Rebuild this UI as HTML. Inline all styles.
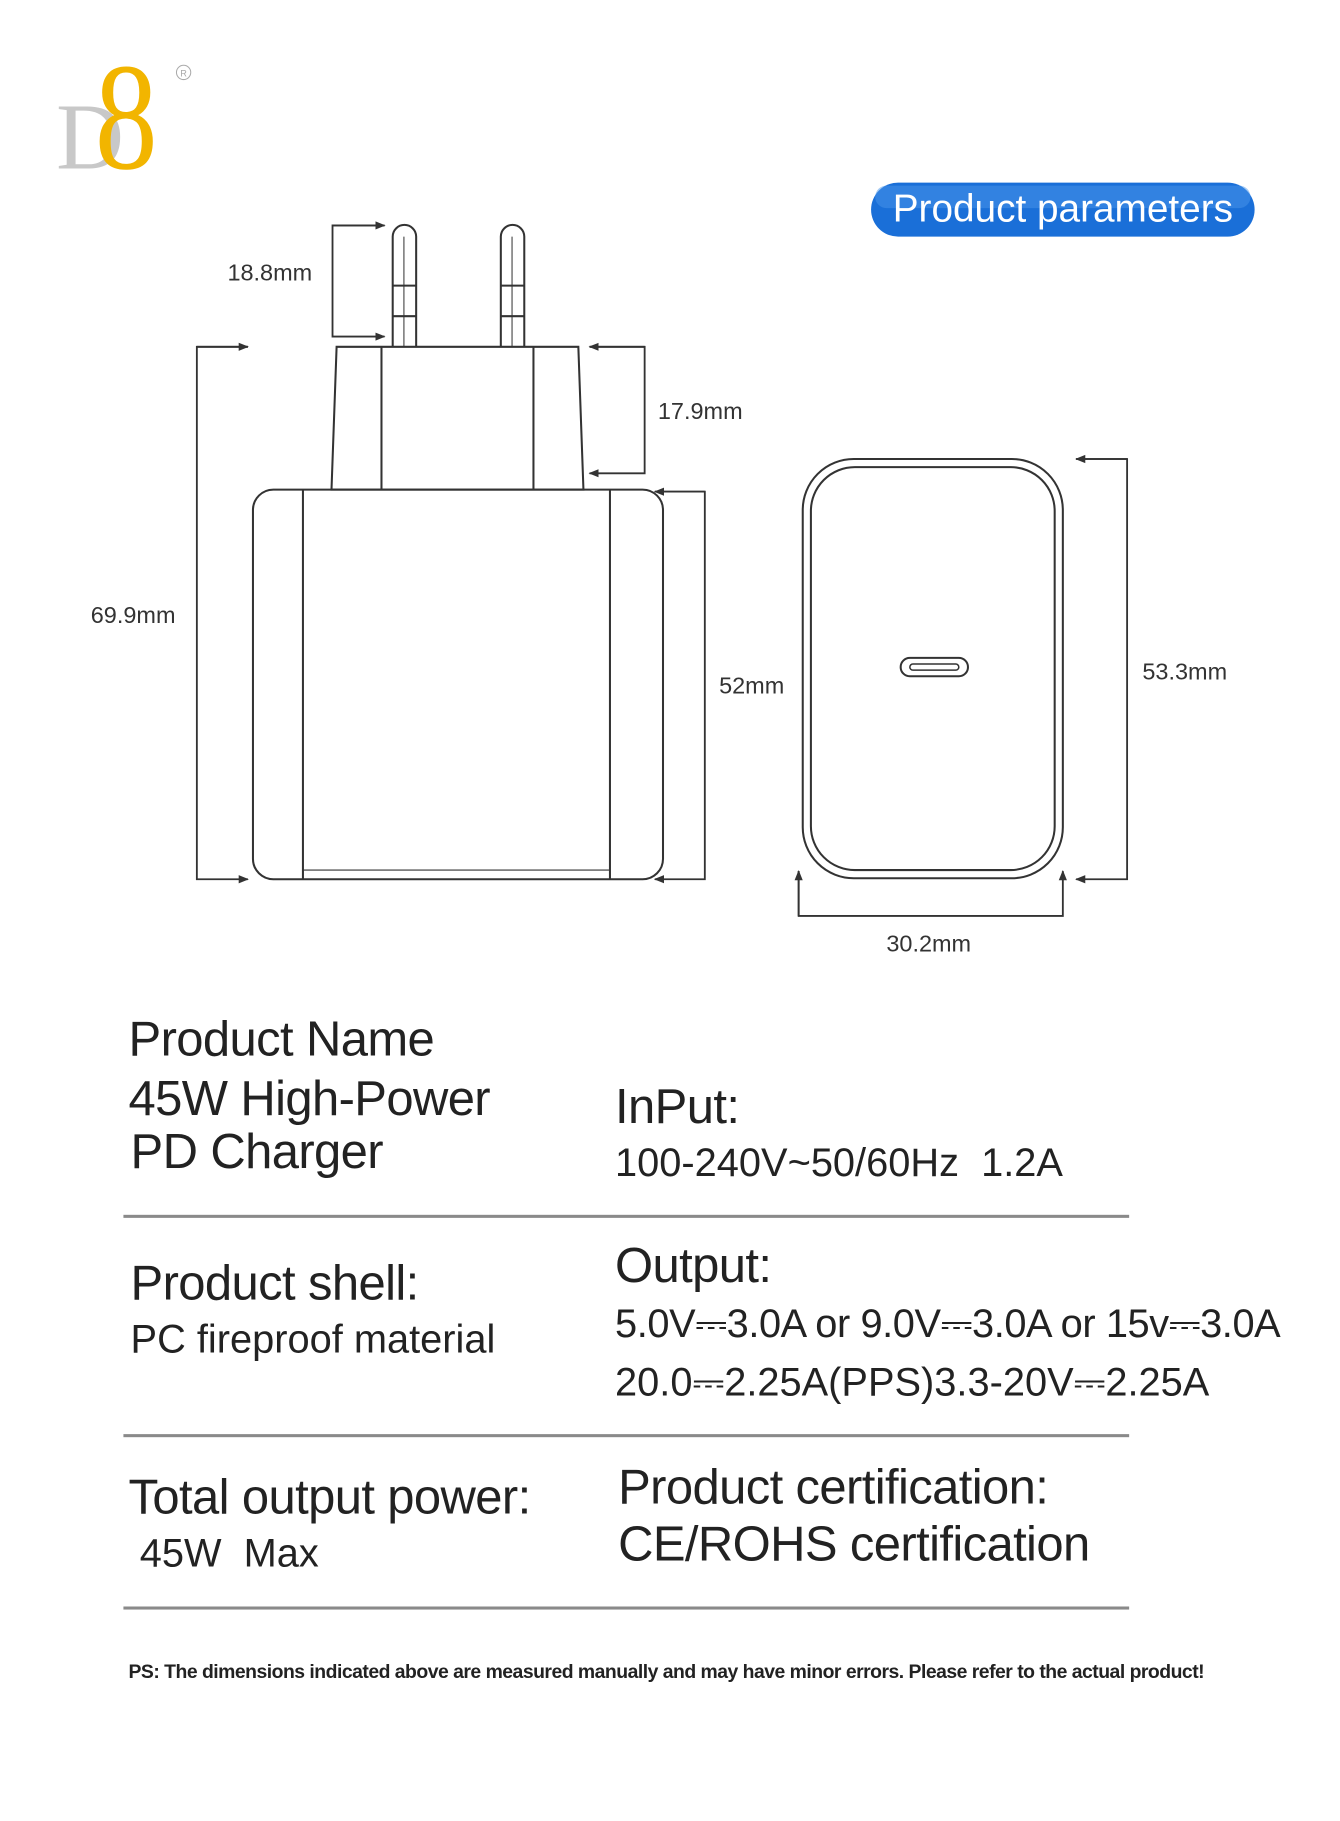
<!DOCTYPE html>
<html><head><meta charset="utf-8"><style>
html,body{margin:0;padding:0;background:#fff;}
body{width:1340px;height:1785px;position:relative;overflow:hidden;font-family:"Liberation Sans Narrow","Liberation Sans",sans-serif;color:#222;}
#w{position:absolute;left:0;top:0;width:1340px;height:1785px;transform:scale(1.02);transform-origin:0 0;}
.t{position:absolute;white-space:nowrap;line-height:1;}
.h{font-size:48px;letter-spacing:-0.6px;margin-top:-4px;}
.s{font-size:39px;}
.hr{position:absolute;left:121px;width:986px;height:3px;background:#8a8a8a;}
</style></head><body><div id="w">
<svg width="1340" height="1000" style="position:absolute;left:0;top:0" font-family="Liberation Sans Narrow, Liberation Sans, sans-serif">
<defs><marker id="a" markerWidth="10" markerHeight="10" refX="9" refY="5" orient="auto" markerUnits="userSpaceOnUse"><path d="M0,1 L10,5 L0,9 Z" fill="#333"/></marker></defs>
<text x="55" y="165" font-family="Liberation Serif, serif" font-size="92" fill="#c8c8c8">D</text>
<text transform="translate(93,165) scale(0.82,1)" font-family="Liberation Serif, serif" font-size="150" fill="#f2b500">8</text>
<circle cx="180" cy="71" r="7" fill="none" stroke="#aaa" stroke-width="1"/>
<text x="180" y="75" font-size="9" fill="#aaa" text-anchor="middle">R</text>
<rect x="854" y="179" width="376" height="53" rx="26.5" fill="#1a6fd8"/>
<rect x="858" y="182" width="368" height="22" rx="11" fill="#4a95ea" opacity="0.5"/>
<text x="1042" y="217" font-size="38" fill="#fff" text-anchor="middle">Product parameters</text>
<g fill="none" stroke="#333" stroke-width="2">
<path d="M385,340 V232 a11.5,11.5 0 0 1 23,0 V340"/><line x1="385" y1="280" x2="408" y2="280"/><line x1="385" y1="310" x2="408" y2="310"/><line x1="396" y1="232" x2="396" y2="340" stroke-width="1"/>
<path d="M491,340 V232 a11.5,11.5 0 0 1 23,0 V340"/><line x1="491" y1="280" x2="514" y2="280"/><line x1="491" y1="310" x2="514" y2="310"/><line x1="502" y1="232" x2="502" y2="340" stroke-width="1"/>
<path d="M330,340 L567,340 L572,480 L325,480 Z"/>
<line x1="374" y1="340" x2="374" y2="480"/><line x1="523" y1="340" x2="523" y2="480"/>
<rect x="248" y="480" width="402" height="382" rx="20"/>
<line x1="297" y1="480" x2="297" y2="862"/><line x1="598" y1="480" x2="598" y2="862"/>
<line x1="297" y1="853" x2="598" y2="853" stroke-width="1"/>
<rect x="787" y="450" width="255" height="411" rx="50"/>
<rect x="795" y="458" width="239" height="395" rx="43"/>
<rect x="883" y="645" width="66" height="18" rx="9"/>
<rect x="892" y="651" width="48" height="6" rx="3" stroke-width="1.5"/>
<g stroke-width="1.8">
<path d="M243,340 H193 V862 H243" marker-end="url(#a)"/><line x1="193" y1="340" x2="243" y2="340" marker-end="url(#a)"/>
<path d="M377,221 H326 V330 H377" marker-end="url(#a)"/><line x1="326" y1="221" x2="377" y2="221" marker-end="url(#a)"/>
<path d="M578,340 H632 V464 H578" marker-end="url(#a)"/><line x1="632" y1="340" x2="578" y2="340" marker-end="url(#a)"/>
<path d="M642,482 H691 V862 H642" marker-end="url(#a)"/><line x1="691" y1="482" x2="642" y2="482" marker-end="url(#a)"/>
<path d="M1055,450 H1105 V862 H1055" marker-end="url(#a)"/><line x1="1105" y1="450" x2="1055" y2="450" marker-end="url(#a)"/>
<path d="M783,854 V898 H1042 V854" marker-end="url(#a)"/><line x1="783" y1="898" x2="783" y2="854" marker-end="url(#a)"/>
</g>
</g>
<g font-size="23" fill="#333">
<text x="223" y="275">18.8mm</text>
<text x="645" y="411">17.9mm</text>
<text x="89" y="611">69.9mm</text>
<text x="705" y="680">52mm</text>
<text x="1120" y="666">53.3mm</text>
<text x="869" y="933">30.2mm</text>
</g>
</svg>
<div class="t h" style="left:126px;top:1000px">Product Name</div>
<div class="t h" style="left:126px;top:1058px">45W High-Power</div>
<div class="t h" style="left:128px;top:1110px">PD Charger</div>
<div class="t h" style="left:603px;top:1066px">InPut:</div>
<div class="t s" style="left:603px;top:1121px">100-240V~50/60Hz&nbsp; 1.2A</div>
<div class="hr" style="top:1191px"></div>
<div class="t h" style="left:128px;top:1239px">Product shell:</div>
<div class="t s" style="left:128px;top:1294px">PC fireproof material</div>
<div class="t h" style="left:603px;top:1222px">Output:</div>
<div class="t s" style="left:603px;top:1279px;letter-spacing:-0.4px">5.0V⎓3.0A or 9.0V⎓3.0A or 15v⎓3.0A</div>
<div class="t s" style="left:603px;top:1336px">20.0⎓2.25A(PPS)3.3-20V⎓2.25A</div>
<div class="hr" style="top:1406px"></div>
<div class="t h" style="left:126px;top:1449px">Total output power:</div>
<div class="t s" style="left:137px;top:1504px">45W&nbsp; Max</div>
<div class="t h" style="left:606px;top:1439px">Product certification:</div>
<div class="t h" style="left:606px;top:1495px">CE/ROHS certification</div>
<div class="hr" style="top:1575px"></div>
<div class="t" style="left:126px;top:1630px;font-size:19px;font-weight:bold;letter-spacing:-0.5px">PS: The dimensions indicated above are measured manually and may have minor errors. Please refer to the actual product!</div>
</div></body></html>
